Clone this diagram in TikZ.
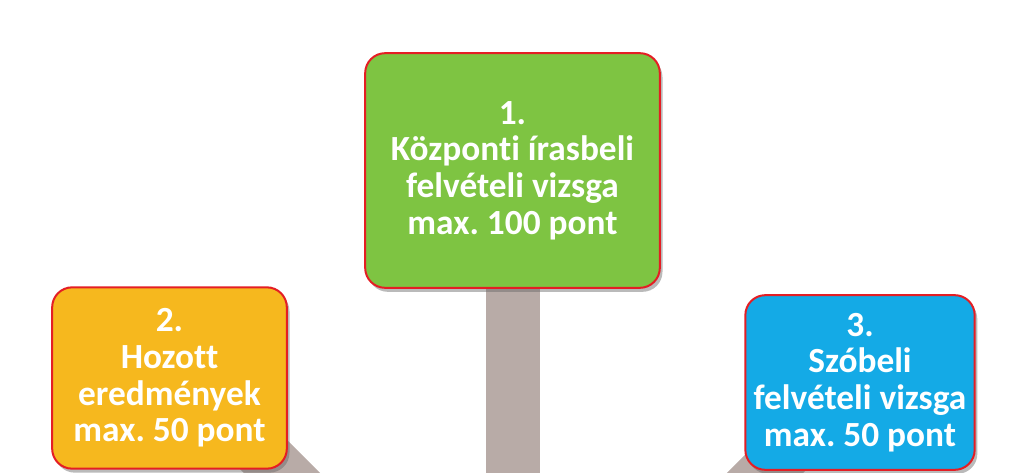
\documentclass[tikz,border=0pt]{standalone}
\usepackage{fontspec}
\setmainfont{Carlito}[Ligatures={NoCommon}]
\usetikzlibrary{positioning, shadows, backgrounds}
\definecolor{zold}{RGB}{126,196,66}
\definecolor{narancs}{RGB}{246,184,30}
\definecolor{kek}{RGB}{20,170,230}
\definecolor{piros}{RGB}{228,30,36}
\definecolor{oszlop}{RGB}{184,171,167}
\frenchspacing
\begin{document}
\begin{tikzpicture}[x=0.75pt,y=0.75pt,
    doboz/.style={draw=piros,line width=1.5pt,rounded corners=15pt,text=white,align=center,
        font=\bfseries\fontsize{26.5}{27.5}\selectfont,inner sep=0pt,
        drop shadow={shadow xshift=2pt,shadow yshift=-3pt,opacity=0.45,fill=black!60}},
    rud/.style={draw=oszlop,line width=40.5pt}]
    \useasboundingbox (0,0) rectangle (1024,472);
    % a harom tabla
    \node[doboz,fill=zold,minimum width=221pt,minimum height=176pt] (kozp) at (512.5,301.5) {1.\\K\"ozponti \'irasbeli\\felv\'eteli vizsga\\max. 100 pont};
    \node[doboz,fill=narancs,minimum width=176pt,minimum height=136pt] (hozott) at (169.5,94) {2.\\Hozott\\eredm\'enyek\\max. 50 pont};
    \node[doboz,fill=kek,minimum width=172pt,minimum height=131pt] (szobeli) at (860,89.5) {3.\\Sz\'obeli\\felv\'eteli vizsga\\max. 50 pont};

    \coordinate (talp) at (512.5,-20);
    \coordinate (baltalp) at (301,-20);
    \coordinate (jobbtalp) at (746,-20);

    \begin{scope}[on background layer]
        \clip (0,0) rectangle (1024,472);
        \draw[rud] (kozp.center) -- (talp);
        \draw[rud] ([xshift=13pt]hozott.center) -- (baltalp);
        \draw[rud] ([xshift=-3.4pt]szobeli.center) -- (jobbtalp);
    \end{scope}
\end{tikzpicture}
\end{document}
